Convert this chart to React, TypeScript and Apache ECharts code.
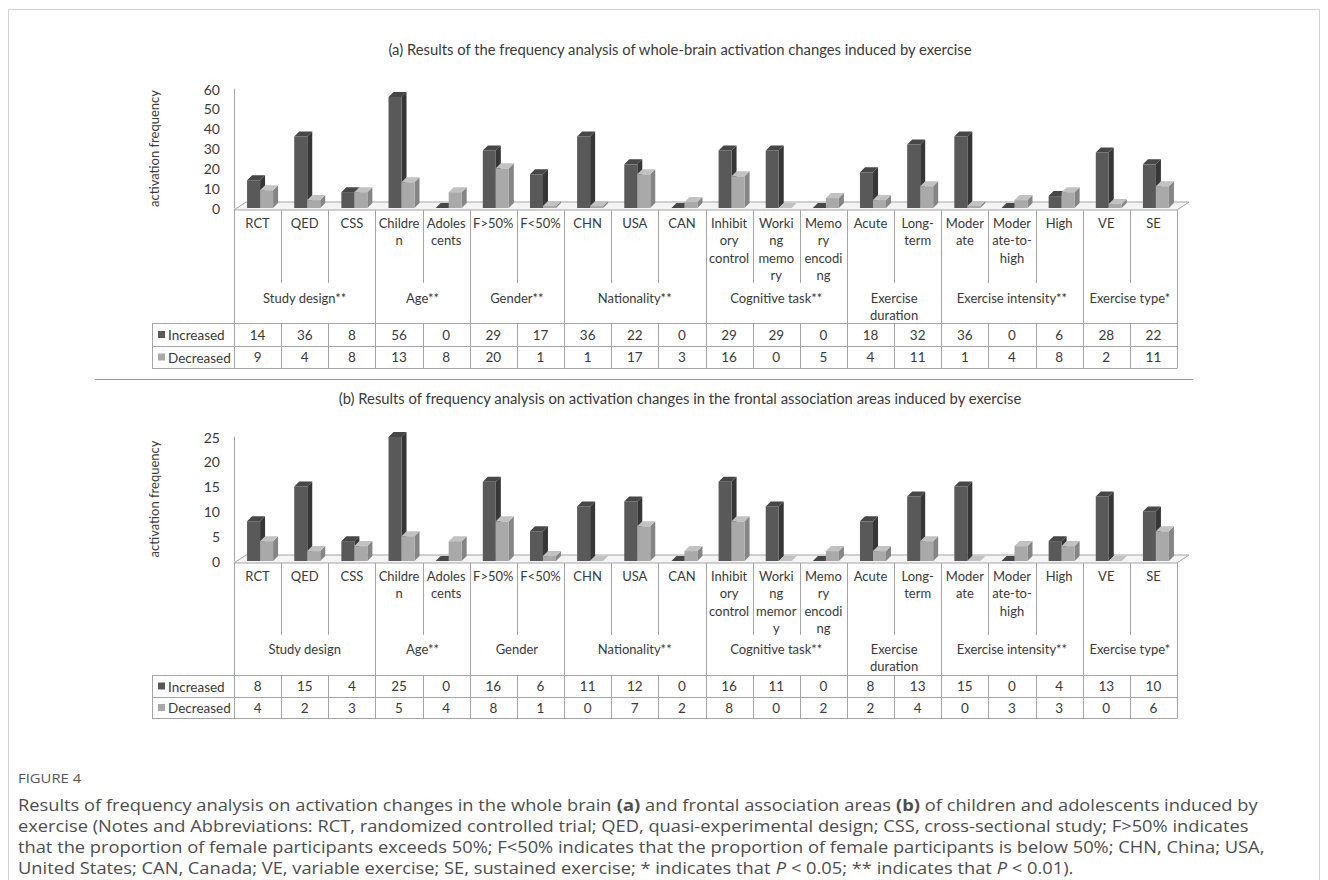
import React, { useEffect, useRef } from "react";
import * as echarts from "echarts";

// ---------------- DATA ----------------
const CATEGORIES_A = [
  "RCT", "QED", "CSS", "Childre\nn", "Adoles\ncents", "F>50%", "F<50%", "CHN", "USA", "CAN",
  "Inhibit\nory\ncontrol", "Worki\nng\nmemo\nry", "Memo\nry\nencodi\nng", "Acute", "Long-\nterm",
  "Moder\nate", "Moder\nate-to-\nhigh", "High", "VE", "SE",
];
const CATEGORIES_B = [
  "RCT", "QED", "CSS", "Childre\nn", "Adoles\ncents", "F>50%", "F<50%", "CHN", "USA", "CAN",
  "Inhibit\nory\ncontrol", "Worki\nng\nmemor\ny", "Memo\nry\nencodi\nng", "Acute", "Long-\nterm",
  "Moder\nate", "Moder\nate-to-\nhigh", "High", "VE", "SE",
];
const INCREASED_A = [14, 36, 8, 56, 0, 29, 17, 36, 22, 0, 29, 29, 0, 18, 32, 36, 0, 6, 28, 22];
const DECREASED_A = [9, 4, 8, 13, 8, 20, 1, 1, 17, 3, 16, 0, 5, 4, 11, 1, 4, 8, 2, 11];
const INCREASED_B = [8, 15, 4, 25, 0, 16, 6, 11, 12, 0, 16, 11, 0, 8, 13, 15, 0, 4, 13, 10];
const DECREASED_B = [4, 2, 3, 5, 4, 8, 1, 0, 7, 2, 8, 0, 2, 2, 4, 0, 3, 3, 0, 6];
const GROUPS_A = ["Study design**", "Age**", "Gender**", "Nationality**", "Cognitive task**", "Exercise\nduration", "Exercise intensity**", "Exercise type*"];
const GROUPS_B = ["Study design", "Age**", "Gender", "Nationality**", "Cognitive task**", "Exercise\nduration", "Exercise intensity**", "Exercise type*"];
const GROUP_SPANS = [3, 2, 2, 3, 3, 2, 3, 2];
const Y_MAX_A = 60;
const Y_STEP_A = 10;
const Y_MAX_B = 25;
const Y_STEP_B = 5;
const ROW_NAMES = ["Increased", "Decreased"];
const TITLE_A = "(a) Results of the frequency analysis of whole-brain activation changes induced by exercise";
const TITLE_B = "(b) Results of frequency analysis on activation changes in the frontal association areas induced by exercise";
const Y_NAME = "activation frequency";

// ---------------- STYLE / LAYOUT ----------------
const FONT = "Lato, 'Open Sans', sans-serif";
const CAP_FONT = "'Open Sans', 'Noto Sans', sans-serif";
const TXT = "#3a3a3a";
const LINE = "#a5a5a5";
const DARK = { front: "#595959", side: "#363636", top: "#474747" };
const LIGHT = { front: "#a9a9a9", side: "#858585", top: "#c2c2c2" };
const GRID_LEFT = 234;
const GRID_W = 943;
const COL_W = GRID_W / 20;
const ROW_LABEL_LEFT = 152;
const BAR_W = 13;
const DEPTH = 5;

const PANEL_A = { yb: 208, gridTop: 89, titleY: 49, subEnd: 283, groupY: 289, rowTop: 323, rowMid: 346, rowBot: 368 };
const PANEL_B = { yb: 561, gridTop: 437, titleY: 398, subEnd: 635, groupY: 640, rowTop: 675, rowMid: 697, rowBot: 718 };

function barSeries(values: number[], axisIdx: number, offset: number, c: any, name: string) {
  return {
    type: "custom",
    name,
    xAxisIndex: axisIdx * 3,
    yAxisIndex: axisIdx,
    data: values.map((v, i) => [i, v]),
    encode: { x: 0, y: 1 },
    renderItem: (_params: any, api: any) => {
      const i = api.value(0);
      const v = api.value(1);
      const b = api.coord([i, 0]);
      const t = api.coord([i, v]);
      const x0 = b[0] + offset;
      const x1 = x0 + BAR_W;
      const y0 = b[1];
      const y1 = t[1];
      return {
        type: "group",
        children: [
          { type: "polygon", shape: { points: [[x1, y1], [x1 + DEPTH, y1 - DEPTH], [x1 + DEPTH, y0 - DEPTH], [x1, y0]] }, style: { fill: c.side } },
          { type: "rect", shape: { x: x0, y: y1, width: BAR_W, height: y0 - y1 }, style: { fill: c.front } },
          { type: "polygon", shape: { points: [[x0, y1], [x0 + DEPTH, y1 - DEPTH], [x1 + DEPTH, y1 - DEPTH], [x1, y1]] }, style: { fill: c.top } },
        ],
      };
    },
  };
}

function xAxes(gridIndex: number, cats: string[], inc: number[], dec: number[], p: any) {
  const common = {
    type: "category",
    gridIndex,
    data: cats,
    position: "bottom",
    axisLine: { show: false },
    axisTick: { show: false },
    splitLine: { show: false },
  };
  const labelStyle = { color: TXT, fontFamily: FONT, fontSize: 13, interval: 0 };
  return [
    { ...common, axisLabel: { ...labelStyle, margin: 6, lineHeight: 17.5, verticalAlign: "top" } },
    {
      ...common,
      offset: (p.rowTop + p.rowMid) / 2 - p.yb,
      axisLabel: { ...labelStyle, fontSize: 13.5, margin: 0, verticalAlign: "middle", formatter: (_v: any, idx: number) => String(inc[idx]) },
    },
    {
      ...common,
      offset: (p.rowMid + p.rowBot) / 2 - p.yb,
      axisLabel: { ...labelStyle, fontSize: 13.5, margin: 0, verticalAlign: "middle", formatter: (_v: any, idx: number) => String(dec[idx]) },
    },
  ];
}

function yAxis(gridIndex: number, max: number, step: number) {
  return {
    type: "value",
    gridIndex,
    min: 0,
    max,
    interval: step,
    name: Y_NAME,
    nameLocation: "middle",
    nameGap: 74,
    nameTextStyle: { color: TXT, fontFamily: FONT, fontSize: 13 },
    axisLine: { show: true, lineStyle: { color: LINE, width: 1 } },
    axisTick: { show: false },
    splitLine: { show: false },
    axisLabel: { color: TXT, fontFamily: FONT, fontSize: 14, margin: 14 },
  };
}

function ln(x1: number, y1: number, x2: number, y2: number, color = LINE) {
  return { type: "line", silent: true, shape: { x1, y1, x2, y2 }, style: { stroke: color, lineWidth: 1 } };
}

function txt(text: string, x: number, y: number, opts: any = {}) {
  return {
    type: "text",
    silent: true,
    style: {
      text, x, y,
      fill: TXT, fontFamily: FONT, fontSize: 13,
      align: "center", textAlign: "center", verticalAlign: "middle", textVerticalAlign: "middle",
      ...opts,
    },
  };
}

function panelGraphics(p: any, groups: string[], title: string) {
  const els: any[] = [];
  const L = GRID_LEFT;
  const R = GRID_LEFT + GRID_W;
  els.push(txt(title, 680, p.titleY, { fontSize: 14.8 }));
  // floor
  els.push({
    type: "polygon",
    silent: true,
    shape: { points: [[L, p.yb + 2], [R, p.yb + 2], [R + 12, p.yb - 6], [L + 12, p.yb - 6]] },
    style: { fill: "#f4f4f4", stroke: LINE, lineWidth: 1 },
  });
  // vertical table lines
  const bounds: number[] = [0];
  let acc = 0;
  GROUP_SPANS.forEach((s) => { acc += s; bounds.push(acc); });
  for (let i = 0; i <= 20; i++) {
    const x = Math.round(L + COL_W * i) + 0.5;
    if (bounds.indexOf(i) >= 0) {
      els.push(ln(x, p.yb + 2, x, p.rowBot));
    } else {
      els.push(ln(x, p.yb + 2, x, p.subEnd));
      els.push(ln(x, p.rowTop, x, p.rowBot));
    }
  }
  // horizontal table lines
  [p.rowTop, p.rowMid, p.rowBot].forEach((y) => els.push(ln(ROW_LABEL_LEFT, y + 0.5, R + 0.5, y + 0.5)));
  els.push(ln(ROW_LABEL_LEFT + 0.5, p.rowTop, ROW_LABEL_LEFT + 0.5, p.rowBot));
  // group labels
  let start = 0;
  groups.forEach((g, k) => {
    const cx = L + COL_W * (start + GROUP_SPANS[k] / 2);
    els.push(txt(g, cx, p.groupY, { verticalAlign: "top", textVerticalAlign: "top", lineHeight: 17.5 }));
    start += GROUP_SPANS[k];
  });
  // row labels
  const centers = [(p.rowTop + p.rowMid) / 2, (p.rowMid + p.rowBot) / 2];
  [DARK.front, LIGHT.front].forEach((col, k) => {
    els.push({ type: "rect", silent: true, shape: { x: 158, y: centers[k] - 3.5, width: 7, height: 7 }, style: { fill: col } });
    els.push(txt(ROW_NAMES[k], 168, centers[k] + 0.5, { align: "left", textAlign: "left", fontSize: 13.5 }));
  });
  return els;
}

const CAPTION_LINES = [
  "Results of frequency analysis on activation changes in the whole brain {b|(a)} and frontal association areas {b|(b)} of children and adolescents induced by",
  "exercise (Notes and Abbreviations: RCT, randomized controlled trial; QED, quasi-experimental design; CSS, cross-sectional study; F>50% indicates",
  "that the proportion of female participants exceeds 50%; F<50% indicates that the proportion of female participants is below 50%; CHN, China; USA,",
  "United States; CAN, Canada; VE, variable exercise; SE, sustained exercise; * indicates that {i|P} < 0.05; ** indicates that {i|P} < 0.01).",
];

function captionGraphics() {
  const els: any[] = [];
  const CAP = "#4d4d4d";
  const FS = 15.5;
  els.push({
    type: "text", silent: true,
    x: 18, y: 778, scaleX: 1.1,
    style: { text: "FIGURE 4", x: 0, y: 0, fill: "#555", fontFamily: CAP_FONT, fontSize: 13.5, align: "left", textAlign: "left", verticalAlign: "middle", textVerticalAlign: "middle" },
  });
  CAPTION_LINES.forEach((t, k) => {
    els.push({
      type: "text", silent: true,
      x: 18, y: 805 + k * 21, scaleX: 1.18,
      style: {
        text: t, x: 0, y: 0,
        fill: CAP, fontFamily: CAP_FONT, fontSize: FS,
        align: "left", textAlign: "left", verticalAlign: "middle", textVerticalAlign: "middle",
        rich: {
          b: { fontWeight: "bold", fill: CAP, color: CAP, fontFamily: CAP_FONT, fontSize: FS },
          i: { fontStyle: "italic", fill: CAP, color: CAP, fontFamily: CAP_FONT, fontSize: FS },
        },
      },
    });
  });
  return els;
}

export default function App() {
  const ref = useRef<HTMLDivElement>(null);
  useEffect(() => {
    document.body.style.margin = "0";
    if (!ref.current) return;
    const chart = echarts.init(ref.current, null, { renderer: "svg" });
    const option: any = {
      animation: false,
      backgroundColor: "#ffffff",
      grid: [
        { left: GRID_LEFT, top: PANEL_A.gridTop, width: GRID_W, height: PANEL_A.yb - PANEL_A.gridTop, containLabel: false, outerBoundsMode: "none" },
        { left: GRID_LEFT, top: PANEL_B.gridTop, width: GRID_W, height: PANEL_B.yb - PANEL_B.gridTop, containLabel: false, outerBoundsMode: "none" },
      ],
      xAxis: [
        ...xAxes(0, CATEGORIES_A, INCREASED_A, DECREASED_A, PANEL_A),
        ...xAxes(1, CATEGORIES_B, INCREASED_B, DECREASED_B, PANEL_B),
      ],
      yAxis: [yAxis(0, Y_MAX_A, Y_STEP_A), yAxis(1, Y_MAX_B, Y_STEP_B)],
      series: [
        barSeries(INCREASED_A, 0, -10.5, DARK, "Increased"),
        barSeries(DECREASED_A, 0, 2.5, LIGHT, "Decreased"),
        barSeries(INCREASED_B, 1, -10.5, DARK, "Increased"),
        barSeries(DECREASED_B, 1, 2.5, LIGHT, "Decreased"),
      ],
      graphic: [
        { type: "rect", silent: true, shape: { x: 8.5, y: 9.5, width: 1311, height: 900 }, style: { fill: "none", stroke: "#d2d2d2", lineWidth: 1 } },
        ...panelGraphics(PANEL_A, GROUPS_A, TITLE_A),
        ...panelGraphics(PANEL_B, GROUPS_B, TITLE_B),
        ln(95, 379.5, 1193, 379.5, "#9a9a9a"),
        ...captionGraphics(),
      ],
    };
    chart.setOption(option);
    return () => chart.dispose();
  }, []);
  return <div ref={ref} style={{ position: "absolute", left: 0, top: 0, width: 1328, height: 880, background: "#fff" }} />;
}
